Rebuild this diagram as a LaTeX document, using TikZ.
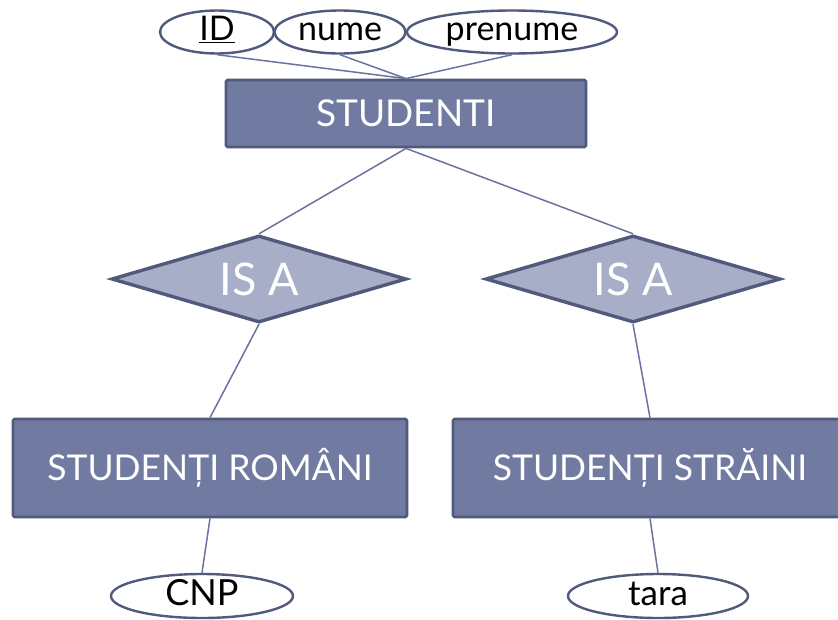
\documentclass[tikz,border=0pt]{standalone}
\usepackage{fontspec}
\setmainfont{Lato}
\usetikzlibrary{shapes.geometric}
\definecolor{boxfill}{HTML}{717BA1}
\definecolor{boxedge}{HTML}{515A7C}
\definecolor{diafill}{HTML}{A8AEC8}
\definecolor{linkcol}{HTML}{6A73A0}
\newcommand{\isatext}[1]{\smash{\raisebox{-0.36em}{\makebox[0pt]{#1}}}}
\newcommand{\attrtext}[1]{\smash{\raisebox{-0.26em}{\makebox[0pt]{#1}}}}
\tikzset{
  entity/.style={draw=boxedge, line width=2.8pt, fill=boxfill, rounded corners=1.5pt,
    text=white, inner sep=0pt, minimum height=98pt},
  isa/.style={diamond, draw=boxedge, line width=3.4pt, fill=diafill, text=white,
    inner sep=0pt, minimum width=295pt, minimum height=87pt,
    font=\fontsize{45}{50}\selectfont},
  attr/.style={ellipse, draw=boxedge, line width=2.4pt, fill=white, text=black,
    inner sep=0pt, minimum height=43pt},
  link/.style={draw=linkcol, line width=1.5pt}
}
\begin{document}
\begin{tikzpicture}[x=1pt, y=-1pt]
\useasboundingbox (0,0) rectangle (838,619);
\clip (0,0) rectangle (838,619);
\node[entity, minimum width=360pt, minimum height=67pt, font=\fontsize{37}{40}\selectfont] (stud) at (406,113.5) {STUDENTI};
\node[isa] (isa1) at (259,279) {\isatext{IS A}};
\node[isa] (isa2) at (633,279) {\isatext{IS A}};
\node[entity, minimum width=394pt, font=\fontsize{35.5}{38}\selectfont] (rom) at (210,468) {STUDENȚI ROMÂNI};
\node[entity, minimum width=394pt, font=\fontsize{35.5}{38}\selectfont] (str) at (650,468) {STUDENȚI STRĂINI};
\node[attr, minimum width=114pt, font=\fontsize{34}{36}\selectfont] (id) at (217,32) {\attrtext{\underline{ID}}};
\node[attr, minimum width=131pt, font=\fontsize{34}{36}\selectfont] (nume) at (340,32) {\attrtext{nume}};
\node[attr, minimum width=210pt, font=\fontsize{34}{36}\selectfont] (pren) at (512,32) {\attrtext{prenume}};
\node[attr, minimum width=182pt, minimum height=44pt, font=\fontsize{36}{38}\selectfont] (cnp) at (202,596) {\attrtext{CNP}};
\node[attr, minimum width=180pt, minimum height=44pt, font=\fontsize{35}{37}\selectfont] (tara) at (658,596) {\attrtext{tara}};
\draw[link] (id.south) -- (stud.north);
\draw[link] (nume.south) -- (stud.north);
\draw[link] (pren.south) -- (stud.north);
\draw[link] (stud.south) -- (isa1.north);
\draw[link] (stud.south) -- (isa2.north);
\draw[link] (isa1.south) -- (rom.north);
\draw[link] (isa2.south) -- (str.north);
\draw[link] (rom.south) -- (cnp.north);
\draw[link] (str.south) -- (tara.north);
\end{tikzpicture}
\end{document}
